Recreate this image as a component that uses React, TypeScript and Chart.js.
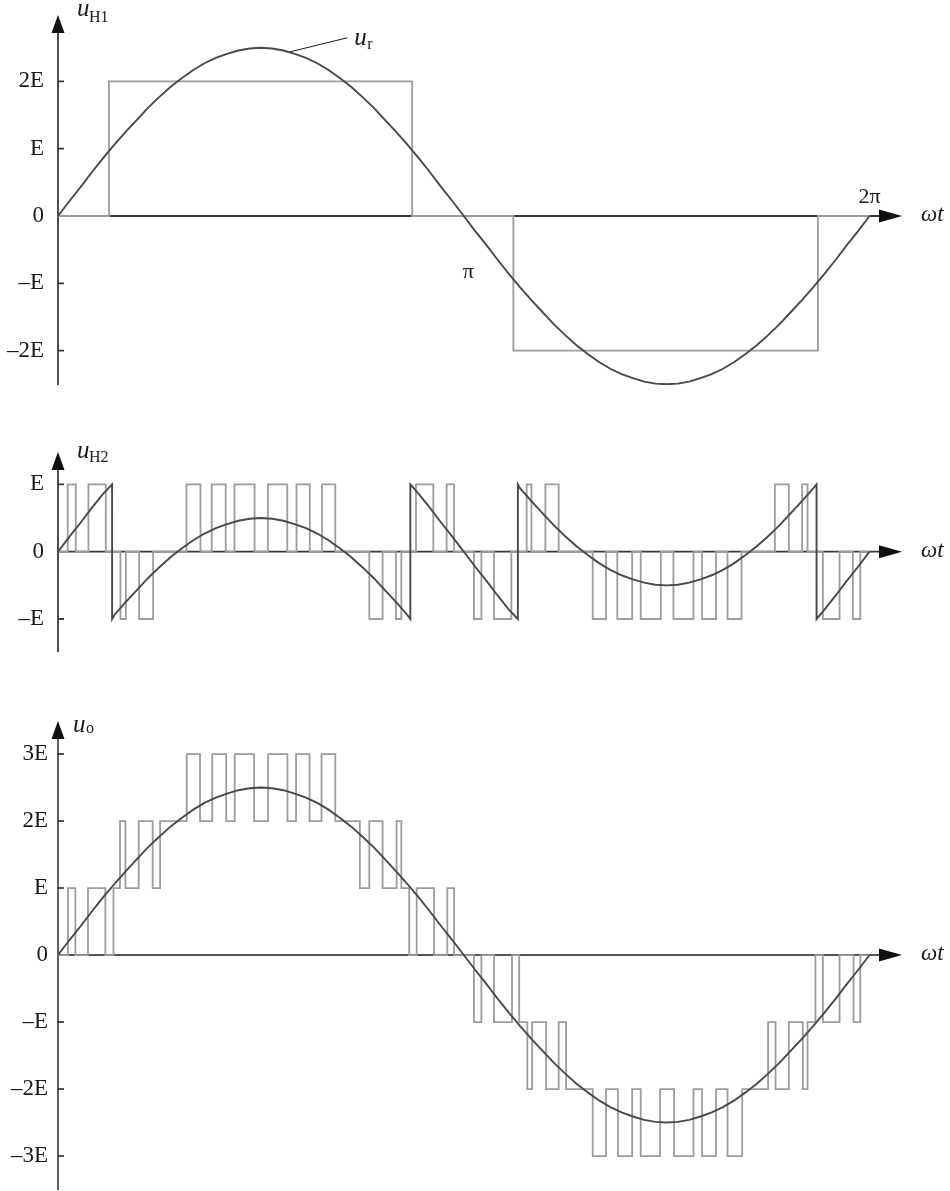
import React, { useEffect, useRef } from 'react';
import { Chart, registerables } from 'chart.js';

Chart.register(...registerables);

const SERIF = "'Liberation Serif', 'Times New Roman', 'DejaVu Serif', serif";

// ---------- data (angles in degrees, values in units of E) ----------
const UR_ANGLES = [
  0, 5, 10, 15, 20, 25, 30, 35, 40, 45, 50, 55, 60, 65, 70, 75, 80, 85, 90,
  95, 100, 105, 110, 115, 120, 125, 130, 135, 140, 145, 150, 155, 160, 165, 170, 175, 180,
  185, 190, 195, 200, 205, 210, 215, 220, 225, 230, 235, 240, 245, 250, 255, 260, 265, 270,
  275, 280, 285, 290, 295, 300, 305, 310, 315, 320, 325, 330, 335, 340, 345, 350, 355, 360,
];
const UR_VALUES = [
  0, 0.22, 0.43, 0.65, 0.86, 1.06, 1.25, 1.43, 1.61, 1.77, 1.92, 2.05, 2.17, 2.27, 2.35, 2.41, 2.46, 2.49, 2.5,
  2.49, 2.46, 2.41, 2.35, 2.27, 2.17, 2.05, 1.92, 1.77, 1.61, 1.43, 1.25, 1.06, 0.86, 0.65, 0.43, 0.22, 0,
  -0.22, -0.43, -0.65, -0.86, -1.06, -1.25, -1.43, -1.61, -1.77, -1.92, -2.05, -2.17, -2.27, -2.35, -2.41, -2.46, -2.49, -2.5,
  -2.49, -2.46, -2.41, -2.35, -2.27, -2.17, -2.05, -1.92, -1.77, -1.61, -1.43, -1.25, -1.06, -0.86, -0.65, -0.43, -0.22, 0,
];

const UH1_EDGES = [0, 22.6, 157.1, 202.0, 337.1, 360];
const UH1_LEVELS = [0, 2, 0, -2, 0, 0];

const UC2_ANGLES = [
  0, 5, 10, 15, 20, 24, 24, 25, 30, 35, 40, 45, 50, 55, 60, 65, 70, 75, 80, 85, 90,
  95, 100, 105, 110, 115, 120, 125, 130, 135, 140, 145, 150, 155, 156.3, 156.3, 160, 165, 170, 175, 180,
  185, 190, 195, 200, 204, 204, 205, 210, 215, 220, 225, 230, 235, 240, 245, 250, 255, 260, 265, 270,
  275, 280, 285, 290, 295, 300, 305, 310, 315, 320, 325, 330, 335, 336.5, 336.5, 340, 345, 350, 355, 360,
];
const UC2_VALUES = [
  0, 0.22, 0.43, 0.65, 0.86, 1.0, -1.0, -0.94, -0.75, -0.57, -0.39, -0.23, -0.08, 0.05, 0.17, 0.27, 0.35, 0.41, 0.46, 0.49, 0.5,
  0.49, 0.46, 0.41, 0.35, 0.27, 0.17, 0.05, -0.08, -0.23, -0.39, -0.57, -0.75, -0.94, -1.0, 1.0, 0.86, 0.65, 0.43, 0.22, 0,
  -0.22, -0.43, -0.65, -0.86, -1.0, 1.0, 0.94, 0.75, 0.57, 0.39, 0.23, 0.08, -0.05, -0.17, -0.27, -0.35, -0.41, -0.46, -0.49, -0.5,
  -0.49, -0.46, -0.41, -0.35, -0.27, -0.17, -0.05, 0.08, 0.23, 0.39, 0.57, 0.75, 0.94, 1.0, -1.0, -0.86, -0.65, -0.43, -0.22, 0,
];

const UH2_EDGES = [
  0, 4.3, 7.9, 13.5, 21.2, 27.7, 30.1, 36.0, 42.2, 57.0, 63.2, 68.2, 74.4, 78.3, 87.2, 93.1, 101.7, 105.8, 111.7,
  117.1, 123.0, 138.1, 144.0, 149.9, 152.3, 158.8, 166.5, 172.4, 175.7, 184.5, 187.8, 193.4, 201.1, 207.9, 210.0,
  216.2, 222.1, 237.2, 243.1, 248.1, 254.7, 258.5, 267.4, 273.0, 281.9, 285.7, 291.9, 297.0, 303.2, 318.0, 324.2,
  330.1, 332.5, 339.3, 346.7, 352.6, 355.9, 360,
];
const UH2_LEVELS = [
  0, 1, 0, 1, 0, -1, 0, -1, 0, 1, 0, 1, 0, 1, 0, 1, 0, 1, 0,
  1, 0, -1, 0, -1, 0, 1, 0, 1, 0, -1, 0, -1, 0, 1, 0,
  1, 0, -1, 0, -1, 0, -1, 0, -1, 0, -1, 0, -1, 0, 1, 0,
  1, 0, -1, 0, -1, 0, 0,
];

const UO_EDGES = [
  0, 4.4, 7.7, 13.3, 21.0, 24.6, 27.5, 29.9, 35.8, 42.0, 45.3, 57.1, 63.0, 68.4, 74.6, 78.4, 87.0, 93.2, 101.8,
  105.6, 111.6, 116.9, 123.0, 133.9, 138.1, 144.0, 150.2, 152.3, 155.8, 159.1, 166.8, 172.7, 175.7, 184.5, 187.8,
  193.4, 201.4, 204.6, 208.2, 210.3, 216.5, 222.1, 225.4, 237.2, 243.1, 248.4, 254.7, 258.5, 267.1, 273.3, 281.9,
  285.7, 291.9, 297.0, 303.5, 315.0, 318.3, 324.2, 330.4, 332.5, 336.0, 339.3, 346.7, 352.9, 355.9, 360,
];
const UO_LEVELS = [
  0, 1, 0, 1, 0, 1, 2, 1, 2, 1, 2, 3, 2, 3, 2, 3, 2, 3, 2,
  3, 2, 3, 2, 1, 2, 1, 2, 1, 0, 1, 0, 1, 0, -1, 0,
  -1, 0, -1, -2, -1, -2, -1, -2, -3, -2, -3, -2, -3, -2, -3, -2,
  -3, -2, -3, -2, -1, -2, -1, -2, -1, 0, -1, 0, -1, 0, 0,
];

const TICKS_1 = [-2, -1, 0, 1, 2];
const TICK_LABELS_1 = ['\u20132E', '\u2013E', '0', 'E', '2E'];
const TICKS_2 = [-1, 0, 1];
const TICK_LABELS_2 = ['\u2013E', '0', 'E'];
const TICKS_3 = [-3, -2, -1, 0, 1, 2, 3];
const TICK_LABELS_3 = ['\u20133E', '\u20132E', '\u2013E', '0', 'E', '2E', '3E'];

// ---------- styling ----------
const X_MAX = 374.4;
const DARK = '#484848';
const GRAY = '#9c9c9c';

const pts = (xs: number[], ys: number[]) => xs.map((x, i) => ({ x, y: ys[i] }));

interface PanelDef {
  key: string;
  top: number;
  height: number;
  padTop: number;
  padBottom: number;
  yMin: number;
  yMax: number;
  ticks: number[];
  tickLabels: string[];
  labelPad: number;
  sub: string;
  uDx: number;
  uDy: number;
  subDx: number;
  subDy: number;
  axisColor: string;
  axisWidth: number;
  datasets: any[];
  extra?: (chart: any) => void;
}

const curve = (data: any[]) => ({
  data,
  borderColor: DARK,
  borderWidth: 1.9,
  pointRadius: 0,
  tension: 0,
  fill: false,
});
const steps = (data: any[]) => ({
  data,
  borderColor: GRAY,
  borderWidth: 1.8,
  pointRadius: 0,
  stepped: true,
  fill: false,
});

function text(ctx: CanvasRenderingContext2D, s: string, x: number, y: number, font: string, align: CanvasTextAlign = 'left') {
  ctx.font = font;
  ctx.textAlign = align;
  ctx.textBaseline = 'alphabetic';
  ctx.fillStyle = '#1a1a1a';
  ctx.fillText(s, x, y);
}

const PANELS: PanelDef[] = [
  {
    key: 'p1',
    top: -20,
    height: 440,
    padTop: 35,
    padBottom: 35,
    yMin: -2.511,
    yMax: 2.987,
    ticks: TICKS_1,
    tickLabels: TICK_LABELS_1,
    labelPad: 14,
    sub: 'H1',
    uDx: 19,
    uDy: 1,
    subDx: 31,
    subDy: 7,
    axisColor: '#3a3a3a',
    axisWidth: 1.8,
    datasets: [curve(pts(UR_ANGLES, UR_VALUES)), steps(pts(UH1_EDGES, UH1_LEVELS))],
    extra: (chart: any) => {
      const { ctx, scales } = chart;
      const xs = scales.x;
      const ys = scales.y;
      const y0 = ys.getPixelForValue(0);
      text(ctx, '2\u03c0', xs.getPixelForValue(360), y0 - 13, `22px ${SERIF}`, 'center');
      text(ctx, '\u03c0', xs.getPixelForValue(182), y0 + 62, `22px ${SERIF}`, 'center');
      const sx = xs.getPixelForValue(103);
      const sy = ys.getPixelForValue(2.44);
      ctx.save();
      ctx.strokeStyle = '#1a1a1a';
      ctx.lineWidth = 1;
      ctx.beginPath();
      ctx.moveTo(sx, sy);
      ctx.lineTo(sx + 57, sy - 14);
      ctx.stroke();
      ctx.restore();
      text(ctx, 'u', sx + 64, sy - 7, `italic 25px ${SERIF}`);
      text(ctx, 'r', sx + 77, sy - 3, `16px ${SERIF}`);
    },
  },
  {
    key: 'p2',
    top: 412,
    height: 280,
    padTop: 40,
    padBottom: 40,
    yMin: -1.49,
    yMax: 1.481,
    ticks: TICKS_2,
    tickLabels: TICK_LABELS_2,
    labelPad: 14,
    sub: 'H2',
    uDx: 19,
    uDy: 6,
    subDx: 31,
    subDy: 10,
    axisColor: '#3a3a3a',
    axisWidth: 1.8,
    datasets: [curve(pts(UC2_ANGLES, UC2_VALUES)), steps(pts(UH2_EDGES, UH2_LEVELS))],
  },
  {
    key: 'p3',
    top: 681,
    height: 550,
    padTop: 40,
    padBottom: 41,
    yMin: -3.507,
    yMax: 3.493,
    ticks: TICKS_3,
    tickLabels: TICK_LABELS_3,
    labelPad: 10,
    sub: 'o',
    uDx: 15,
    uDy: 11,
    subDx: 28,
    subDy: 12,
    axisColor: '#1e1e1e',
    axisWidth: 1.4,
    datasets: [curve(pts(UR_ANGLES, UR_VALUES)), steps(pts(UO_EDGES, UO_LEVELS))],
  },
];

function makePlugin(p: PanelDef) {
  return {
    id: 'deco_' + p.key,
    beforeDatasetsDraw(chart: any) {
      const { ctx, chartArea, scales } = chart;
      const x0 = scales.x.getPixelForValue(0);
      const y0 = scales.y.getPixelForValue(0);
      ctx.save();
      ctx.strokeStyle = p.axisColor;
      ctx.lineWidth = p.axisWidth;
      ctx.beginPath();
      ctx.moveTo(x0, y0);
      ctx.lineTo(chartArea.right - 20, y0);
      ctx.moveTo(x0, chartArea.top + 16);
      ctx.lineTo(x0, chartArea.bottom);
      p.ticks.forEach((v) => {
        if (v === 0) return;
        const y = scales.y.getPixelForValue(v);
        ctx.moveTo(x0, y);
        ctx.lineTo(x0 + 6, y);
      });
      ctx.stroke();
      ctx.restore();
    },
    afterDraw(chart: any) {
      const { ctx, chartArea, scales } = chart;
      const x0 = scales.x.getPixelForValue(0);
      const y0 = scales.y.getPixelForValue(0);
      ctx.save();
      ctx.fillStyle = '#111';
      ctx.beginPath();
      ctx.moveTo(chartArea.right, y0);
      ctx.lineTo(chartArea.right - 23, y0 - 6.5);
      ctx.lineTo(chartArea.right - 23, y0 + 6.5);
      ctx.closePath();
      ctx.fill();
      ctx.beginPath();
      ctx.moveTo(x0, chartArea.top);
      ctx.lineTo(x0 - 6.5, chartArea.top + 18);
      ctx.lineTo(x0 + 6.5, chartArea.top + 18);
      ctx.closePath();
      ctx.fill();
      ctx.restore();
      text(ctx, 'u', x0 + p.uDx, chartArea.top + p.uDy, `italic 25px ${SERIF}`);
      text(ctx, p.sub, x0 + p.subDx, chartArea.top + p.subDy, `16px ${SERIF}`);
      text(ctx, '\u03c9t', chartArea.right + 19, y0 + 5, `italic 23px ${SERIF}`);
      if (p.extra) p.extra(chart);
    },
  };
}

function PanelChart({ p }: { p: PanelDef }) {
  const ref = useRef<HTMLCanvasElement>(null);
  useEffect(() => {
    const canvas = ref.current;
    if (!canvas) return;
    const chart = new Chart(canvas, {
      type: 'line',
      data: { datasets: p.datasets },
      options: {
        animation: false,
        responsive: false,
        maintainAspectRatio: false,
        events: [],
        layout: { padding: { top: p.padTop, bottom: p.padBottom, left: 0, right: 48 } },
        plugins: { legend: { display: false }, tooltip: { enabled: false } },
        scales: {
          x: { type: 'linear', min: 0, max: X_MAX, display: false },
          y: {
            type: 'linear',
            min: p.yMin,
            max: p.yMax,
            grid: { display: false, drawTicks: false },
            border: { display: false },
            afterBuildTicks: (axis: any) => {
              axis.ticks = p.ticks.map((v) => ({ value: v }));
            },
            afterFit: (axis: any) => {
              axis.width = 58;
            },
            ticks: {
              autoSkip: false,
              padding: p.labelPad,
              color: '#1a1a1a',
              font: { family: SERIF, size: 23 },
              callback: (_v: any, i: number) => p.tickLabels[i],
            },
          },
        },
      } as any,
      plugins: [makePlugin(p)],
    });
    return () => chart.destroy();
  }, [p]);
  return (
    <canvas
      ref={ref}
      width={950}
      height={p.height}
      style={{ position: 'absolute', left: 0, top: p.top, width: 950, height: p.height, display: 'block' }}
    />
  );
}

export default function App() {
  return (
    <div
      style={{
        position: 'fixed',
        left: 0,
        top: 0,
        width: 950,
        height: 1191,
        overflow: 'hidden',
        background: '#ffffff',
      }}
    >
      {PANELS.map((p) => (
        <PanelChart key={p.key} p={p} />
      ))}
    </div>
  );
}
